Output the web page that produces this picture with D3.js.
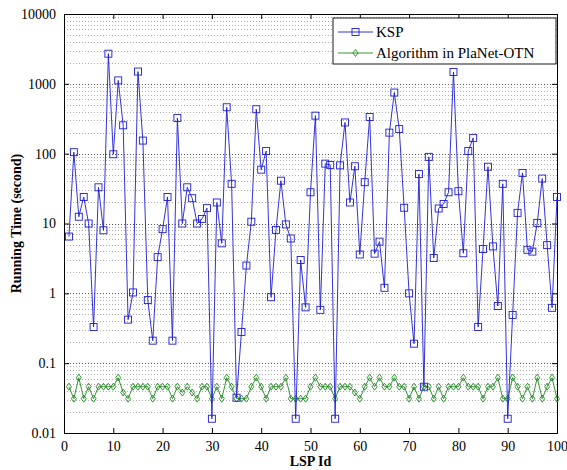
<!DOCTYPE html>
<html>
<head>
<meta charset="utf-8">
<script src="https://cdn.jsdelivr.net/npm/d3@7"></script>
<style>
  body { margin: 0; background: #fff; }
  text { font-family: "Liberation Serif", "Times New Roman", serif; }
</style>
</head>
<body>
<div id="chart"></div>
<script>
// LSP ids 1..100
const lspIds = d3.range(1, 101);

// KSP running time (seconds)
const kspTimes = [
  6.5, 105, 12.5, 24, 10, 0.33, 33, 8, 2700, 98,
  1120, 255, 0.42, 1.03, 1500, 154, 0.8, 0.21, 3.3, 8.3,
  24, 0.21, 324, 10, 33, 23, 10, 11.6, 16.6, 0.016,
  20, 5.2, 462, 37, 0.032, 0.28, 2.5, 10.6, 433, 59,
  109, 0.88, 8.1, 41, 9.7, 6.1, 0.016, 3.0, 0.63, 28,
  350, 0.58, 72, 69, 0.016, 68, 280, 20, 66, 3.6,
  39, 335, 3.7, 5.5, 1.2, 200, 750, 225, 16.8, 1.0,
  0.19, 51, 0.046, 90, 3.2, 16.4, 19, 28, 1480, 29,
  3.75, 109, 168, 0.33, 4.3, 65, 4.7, 0.66, 37, 0.016,
  0.49, 14.2, 53, 4.2, 3.96, 10.2, 44, 4.9, 0.62, 24
];

// Algorithm in PlaNet-OTN running time (seconds)
const otnTimes = [
  0.046, 0.031, 0.062, 0.031, 0.046, 0.031, 0.046, 0.046, 0.046, 0.046,
  0.062, 0.038, 0.031, 0.046, 0.046, 0.046, 0.046, 0.031, 0.046, 0.046,
  0.046, 0.031, 0.046, 0.038, 0.046, 0.038, 0.031, 0.046, 0.046, 0.031,
  0.046, 0.031, 0.062, 0.046, 0.031, 0.031, 0.031, 0.046, 0.062, 0.046,
  0.031, 0.046, 0.046, 0.046, 0.062, 0.031, 0.031, 0.031, 0.031, 0.046,
  0.062, 0.046, 0.046, 0.046, 0.031, 0.046, 0.046, 0.046, 0.038, 0.031,
  0.046, 0.062, 0.046, 0.062, 0.046, 0.046, 0.062, 0.046, 0.046, 0.031,
  0.046, 0.031, 0.046, 0.046, 0.031, 0.046, 0.031, 0.046, 0.046, 0.046,
  0.062, 0.046, 0.046, 0.046, 0.031, 0.046, 0.046, 0.062, 0.031, 0.031,
  0.062, 0.046, 0.031, 0.046, 0.031, 0.062, 0.031, 0.046, 0.062, 0.031
];

const xTicks = d3.range(0, 101, 10);
const yTicks = [0.01, 0.1, 1, 10, 100, 1000, 10000];
const seriesNames = ["KSP", "Algorithm in PlaNet-OTN"];

let margin = {top: 14, right: 10, bottom: 37, left: 64},
    width = 567 - margin.left - margin.right,
    height = 470 - margin.top - margin.bottom;

const blue = "#1c1cd6", green = "#1f8a1f";

const svg = d3.select("#chart").append("svg")
    .attr("width", 567)
    .attr("height", 470);

const g = svg.append("g")
    .attr("transform", `translate(${margin.left},${margin.top})`);

let x = d3.scaleLinear().domain([0, 100]).range([0, width]);
let y = d3.scaleLog().domain([0.01, 10000]).range([height, 0]);

// minor + major horizontal grid
let minor = [];
yTicks.slice(0, -1).forEach(d => { for (let k = 2; k <= 9; k++) minor.push(d * k); });

g.append("g").selectAll("line")
    .data(minor)
    .join("line")
    .attr("x1", 0).attr("x2", width)
    .attr("y1", d => Math.round(y(d)) + 0.5).attr("y2", d => Math.round(y(d)) + 0.5)
    .attr("stroke", "#9a9a9a")
    .attr("stroke-width", 0.8)
    .attr("stroke-dasharray", "1,2");

g.append("g").selectAll("line")
    .data(yTicks.slice(1, -1))
    .join("line")
    .attr("x1", 0).attr("x2", width)
    .attr("y1", d => Math.round(y(d)) + 0.5).attr("y2", d => Math.round(y(d)) + 0.5)
    .attr("stroke", "#444")
    .attr("stroke-width", 0.9)
    .attr("stroke-dasharray", "1,2");

// axes (box style, ticks inward)
let xAxis = d3.axisBottom(x).tickValues(xTicks).tickSize(-5).tickPadding(8);
let yAxis = d3.axisLeft(y).tickValues(yTicks).tickSize(-5).tickPadding(8)
    .tickFormat(d => String(d));

let gx = g.append("g").attr("transform", `translate(0,${height})`).call(xAxis);
let gy = g.append("g").call(yAxis);
g.append("g").call(d3.axisTop(x).tickValues(xTicks).tickSize(-5).tickFormat(""));
g.append("g").attr("transform", `translate(${width},0)`)
    .call(d3.axisRight(y).tickValues(yTicks).tickSize(-5).tickFormat(""));

g.selectAll(".domain").attr("stroke", "#000");
g.selectAll(".tick line").attr("stroke", "#000");
g.selectAll(".tick text")
    .attr("font-family", "Liberation Serif, serif")
    .attr("font-size", 14)
    .attr("fill", "#000");

// series lines
let line = d3.line().x((d, i) => x(lspIds[i])).y(d => y(d));

g.append("path").datum(otnTimes)
    .attr("fill", "none").attr("stroke", green).attr("stroke-width", 0.9)
    .attr("d", line);

g.append("g").selectAll("path")
    .data(otnTimes)
    .join("path")
    .attr("transform", (d, i) => `translate(${x(lspIds[i])},${y(d)})`)
    .attr("d", "M0,-3.5L2.5,0L0,3.5L-2.5,0Z")
    .attr("fill", "none").attr("stroke", green).attr("stroke-width", 0.9);

g.append("path").datum(kspTimes)
    .attr("fill", "none").attr("stroke", blue).attr("stroke-width", 0.9)
    .attr("d", line);

g.append("g").selectAll("rect")
    .data(kspTimes)
    .join("rect")
    .attr("x", (d, i) => x(lspIds[i]) - 3.5)
    .attr("y", d => y(d) - 3.5)
    .attr("width", 7).attr("height", 7)
    .attr("fill", "none").attr("stroke", blue).attr("stroke-width", 0.9);

// legend
const leg = g.append("g").attr("transform", `translate(${width - 224},4)`);
leg.append("rect")
    .attr("width", 223).attr("height", 46)
    .attr("fill", "#fff").attr("stroke", "#000").attr("stroke-width", 0.9);

seriesNames.forEach((name, i) => {
    let ly = 14 + i * 21;
    let col = i === 0 ? blue : green;
    leg.append("line")
        .attr("x1", 5).attr("x2", 40).attr("y1", ly).attr("y2", ly)
        .attr("stroke", col).attr("stroke-width", 0.9);
    if (i === 0) {
        leg.append("rect").attr("x", 19).attr("y", ly - 3.5).attr("width", 7).attr("height", 7)
            .attr("fill", "none").attr("stroke", col).attr("stroke-width", 0.9);
    } else {
        leg.append("path").attr("transform", `translate(22.5,${ly})`)
            .attr("d", "M0,-3.5L2.5,0L0,3.5L-2.5,0Z")
            .attr("fill", "none").attr("stroke", col).attr("stroke-width", 0.9);
    }
    leg.append("text")
        .attr("x", 43).attr("y", ly + 5)
        .attr("font-size", 15)
        .text(name);
});

// axis titles
svg.append("text")
    .attr("x", margin.left + width / 2).attr("y", 466)
    .attr("text-anchor", "middle")
    .attr("font-size", 14).attr("font-weight", "bold")
    .text("LSP Id");

svg.append("text")
    .attr("transform", `translate(21,${margin.top + height / 2}) rotate(-90)`)
    .attr("text-anchor", "middle")
    .attr("font-size", 14).attr("font-weight", "bold")
    .text("Running Time (second)");
</script>
</body>
</html>
